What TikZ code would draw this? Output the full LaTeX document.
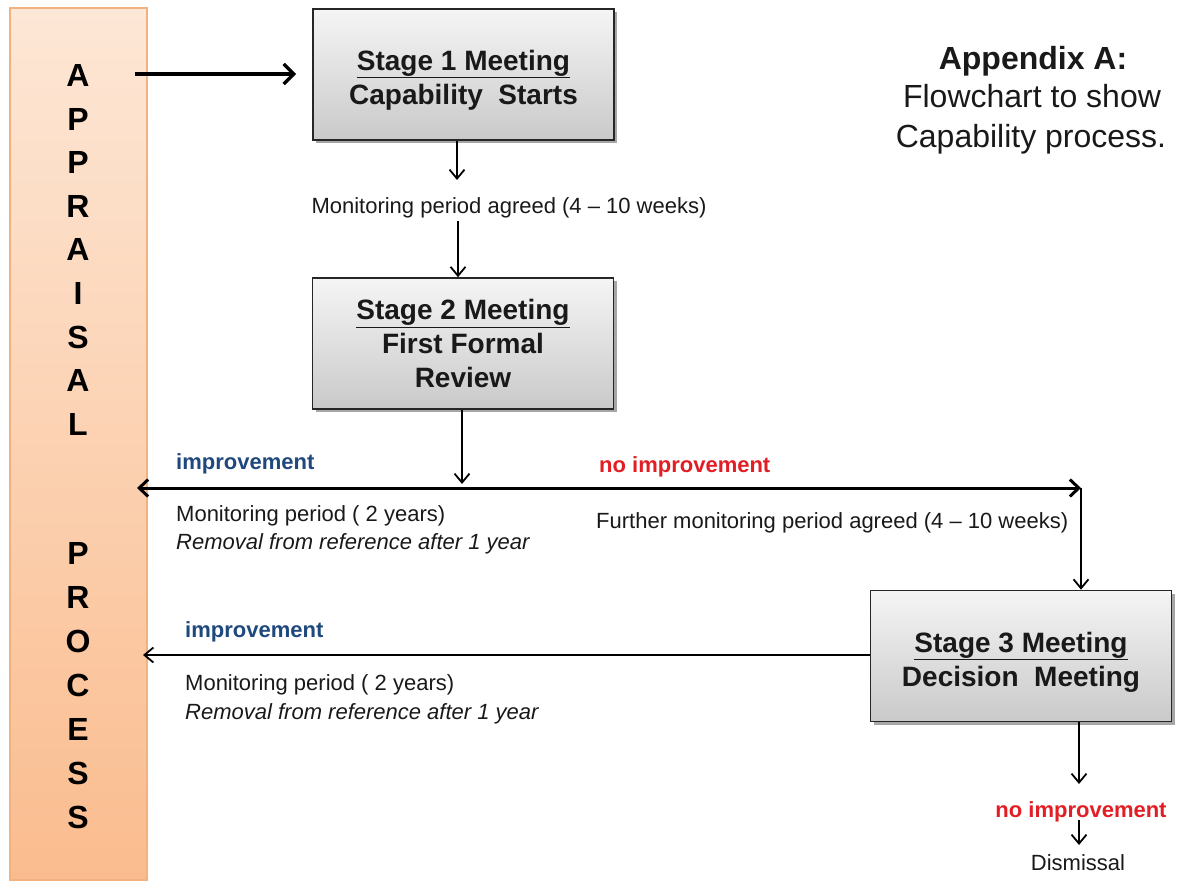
\documentclass[tikz,border=0pt]{standalone}
\usepackage{fontspec}
\setmainfont{Liberation Sans}
\usetikzlibrary{arrows.meta,shadows}
\definecolor{impblue}{RGB}{31,73,125}
\definecolor{nored}{RGB}{226,30,36}
\definecolor{txt}{RGB}{25,25,25}
\definecolor{peachtop}{RGB}{253,231,214}
\definecolor{peachbot}{RGB}{250,188,142}
\definecolor{peachedge}{RGB}{242,178,128}
\newcommand{\stageul}[1]{\underline{\smash{#1}\vphantom{g}}}
\begin{document}
\begin{tikzpicture}[x=1pt,y=-1pt,
  stagebox/.style={draw=black!85, line width=1.6pt, top color=gray!8, bottom color=gray!42,
    minimum width=301pt, minimum height=131pt, align=center, inner sep=0pt,
    font=\fontsize{28}{34}\selectfont\bfseries, text=txt,
    drop shadow={shadow xshift=3pt,shadow yshift=-3pt,opacity=0.35,fill=black}},
  lbl/.style={font=\fontsize{22}{26}\selectfont, text=txt, inner sep=0pt},
  implbl/.style={font=\fontsize{22}{26}\selectfont\bfseries, text=impblue, inner sep=0pt},
  nolbl/.style={font=\fontsize{22}{26}\selectfont\bfseries, text=nored, inner sep=0pt},
  letter/.style={font=\fontsize{32}{38}\selectfont\bfseries, text=black, inner sep=0pt, anchor=base},
  titlelbl/.style={font=\fontsize{32}{38}\selectfont, text=txt, inner sep=0pt, anchor=base},
  thinarr/.style={line width=1.8pt, draw=black, -{Straight Barb[length=9pt,width=15pt]}},
  thickarr/.style={line width=3.5pt, draw=black, -{Straight Barb[length=10pt,width=20pt]}},
  thickdbl/.style={line width=3pt, draw=black, {Straight Barb[length=9pt,width=17pt]}-{Straight Barb[length=9pt,width=17pt]}},
]
\useasboundingbox (0,0) rectangle (1177,881);

% appraisal process bar
\node[draw=peachedge, line width=1.2pt, top color=peachtop, bottom color=peachbot,
  minimum width=137pt, minimum height=872pt, inner sep=0pt] (bar) at (78.5,444) {};
\foreach \l [count=\i from 0] in {A,P,P,R,A,I,S,A,L}
  \node[letter] (ap\i) at (78,86.5+43.6*\i) {\l};
\foreach \l [count=\i from 0] in {P,R,O,C,E,S,S}
  \node[letter] (pr\i) at (78,564.5+44*\i) {\l};

% title
\node[titlelbl] (t1) at (1033,69) {\bfseries Appendix A:};
\node[titlelbl] (t2) at (1032,107) {Flowchart to show};
\node[titlelbl] (t3) at (1031,147) {Capability process.};

% stage boxes
\node[stagebox] (s1) at (463.5,74.5) {\rule{0pt}{31pt}\underline{Stage 1 Meeting}\\Capability\ \ Starts};
\node[stagebox] (s2) at (463,343.5) {\underline{Stage 2 Meeting}\\First Formal\\Review};
\node[stagebox] (s3) at (1021,656) {\rule{0pt}{32pt}\underline{Stage 3 Meeting}\\Decision\ \ Meeting};

% arrow from bar
\coordinate (a0) at (135,74);
\draw[thickarr] (a0) -- ([xshift=-16pt]s1.west |- a0);

% stage 1 -> stage 2
\node[lbl, anchor=base] (m1) at (509,213) {Monitoring period agreed (4 -- 10 weeks)};
\coordinate (c1) at (457,180);
\coordinate (c2) at (458,221);
\draw[thinarr] (s1.south -| c1) -- (c1);
\draw[thinarr] (c2) -- (s2.north -| c2);

% stage 2 -> split line
\coordinate (j1) at (462,484);
\draw[thinarr] (s2.south -| j1) -- (j1);
\coordinate (hl) at (137,488);
\coordinate (hr) at (1081,488);
\draw[thickdbl] (hl) -- (hr);
\draw[thinarr] (hr) -- (s3.north -| hr);

\node[implbl, anchor=base west] (i1) at (176,469) {improvement};
\node[nolbl, anchor=base west] (n1) at (599,472) {no improvement};
\node[lbl, anchor=base west] (m2) at (176,521) {Monitoring period ( 2 years)};
\node[lbl, anchor=base west] (r2) at (176,549) {\itshape Removal from reference after 1 year};
\node[lbl, anchor=base west] (f1) at (596,528) {Further monitoring period agreed (4 -- 10 weeks)};

% stage 3 left
\coordinate (l2) at (143,655);
\draw[thinarr] (s3.west |- l2) -- (l2);
\node[implbl, anchor=base west] (i2) at (185,637) {improvement};
\node[lbl, anchor=base west] (m3) at (185,690) {Monitoring period ( 2 years)};
\node[lbl, anchor=base west] (r3) at (185,719) {\itshape Removal from reference after 1 year};

% stage 3 down
\coordinate (b1) at (1079,784);
\draw[thinarr] (s3.south -| b1) -- (b1);
\node[nolbl, anchor=base] (n3) at (1081,817) {no improvement};
\node[lbl, anchor=base] (d1) at (1078,870) {Dismissal};
\coordinate (b2) at (1079,820);
\coordinate (b3) at (1079,845);
\draw[thinarr] (b2) -- (b3);
\end{tikzpicture}
\end{document}
